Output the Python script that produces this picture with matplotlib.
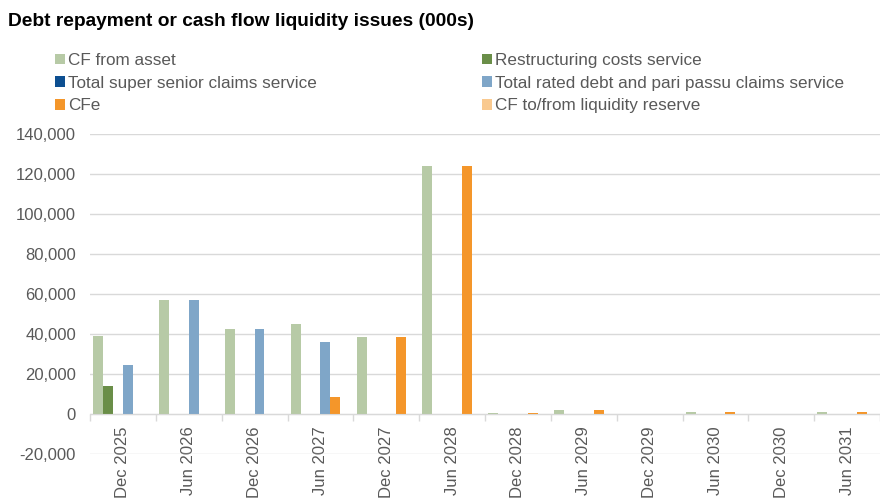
import numpy as np
import matplotlib
matplotlib.use("Agg")
import matplotlib.pyplot as plt
from matplotlib.ticker import FuncFormatter, MultipleLocator

plt.rcParams['font.family'] = ['Liberation Sans', 'DejaVu Sans']

# half-year periods
periods = ["Dec 2025", "Jun 2026", "Dec 2026", "Jun 2027", "Dec 2027", "Jun 2028",
           "Dec 2028", "Jun 2029", "Dec 2029", "Jun 2030", "Dec 2030", "Jun 2031"]

# values in 000s
cf_asset = [39100, 57000, 42300, 45000, 38400, 124000, 500, 1800, 150, 1200, 0, 1000]
restructuring = [14000, 0, 0, 0, 0, 0, 0, 0, 0, 0, 0, 0]
super_senior = [0, 0, 0, 0, 0, 0, 0, 0, 0, 0, 0, 0]
rated_debt = [24400, 57000, 42300, 35900, 0, 0, 0, 0, 0, 0, 0, 0]
cfe = [0, 0, 0, 8300, 38400, 124000, 500, 1800, 100, 1200, 0, 1000]
liquidity = [0, 0, 0, 0, 0, 0, 0, 0, 0, 0, 0, 0]

series = [
    ("CF from asset", cf_asset, "#B7CAA6"),
    ("Restructuring costs service", restructuring, "#6A8E48"),
    ("Total super senior claims service", super_senior, "#0D4F91"),
    ("Total rated debt and pari passu claims service", rated_debt, "#7FA6C8"),
    ("CFe", cfe, "#F4962A"),
    ("CF to/from liquidity reserve", liquidity, "#F9C98F"),
]

grey = "#595959"
fig = plt.figure(figsize=(8.8, 4.98), dpi=100)
ax = fig.add_axes([90 / 880, (498 - 454) / 498, 790 / 880, (454 - 134) / 498])

x = np.arange(len(periods))
w = 0.15
bars = {}
for i, (name, vals, col) in enumerate(series):
    bars[name] = ax.bar(x + (i - 2.5) * w, vals, w, color=col, label=name, zorder=3)

ax.set_ylim(-20000, 140000)
ax.set_xlim(-0.5, 11.36)
ax.yaxis.set_major_locator(MultipleLocator(20000))
ax.yaxis.set_major_formatter(FuncFormatter(lambda v, p: f"{v:,.0f}"))
ax.grid(axis="y", color="#D9D9D9", lw=1, zorder=0)

for s in ["top", "right", "left"]:
    ax.spines[s].set_visible(False)
ax.spines["bottom"].set_position(("data", 0))
ax.spines["bottom"].set_color("#D9D9D9")
ax.spines["bottom"].set_zorder(4)

ax.set_xticks(x)
ax.set_xticklabels(periods, rotation=90)
ax.set_xticks(np.arange(-0.5, 12, 1), minor=True)
ax.tick_params(axis="x", which="major", length=0, pad=9, labelsize=12, labelcolor=grey)
ax.tick_params(axis="x", which="minor", length=5, color="#D9D9D9", width=1)
ax.tick_params(axis="y", length=0, pad=10, labelsize=12, labelcolor=grey)

fig.text(8 / 880, 1 - 21 / 498, "Debt repayment or cash flow liquidity issues (000s)",
         fontsize=13.8, fontweight="bold", va="center", ha="left")

order = [0, 2, 4, 1, 3, 5]
handles = [bars[series[k][0]] for k in order]
labels = [series[k][0] for k in order]
leg = fig.legend(handles, labels, ncol=2, loc="upper left",
                 bbox_to_anchor=(55 / 880, 1 - 53 / 498), frameon=False,
                 fontsize=12.3, handlelength=0.6, handleheight=0.6, handletextpad=0.15,
                 labelspacing=0.45, columnspacing=9.66, borderaxespad=0, borderpad=0)
for t in leg.get_texts():
    t.set_color(grey)

fig.savefig("out.png", dpi=100)
